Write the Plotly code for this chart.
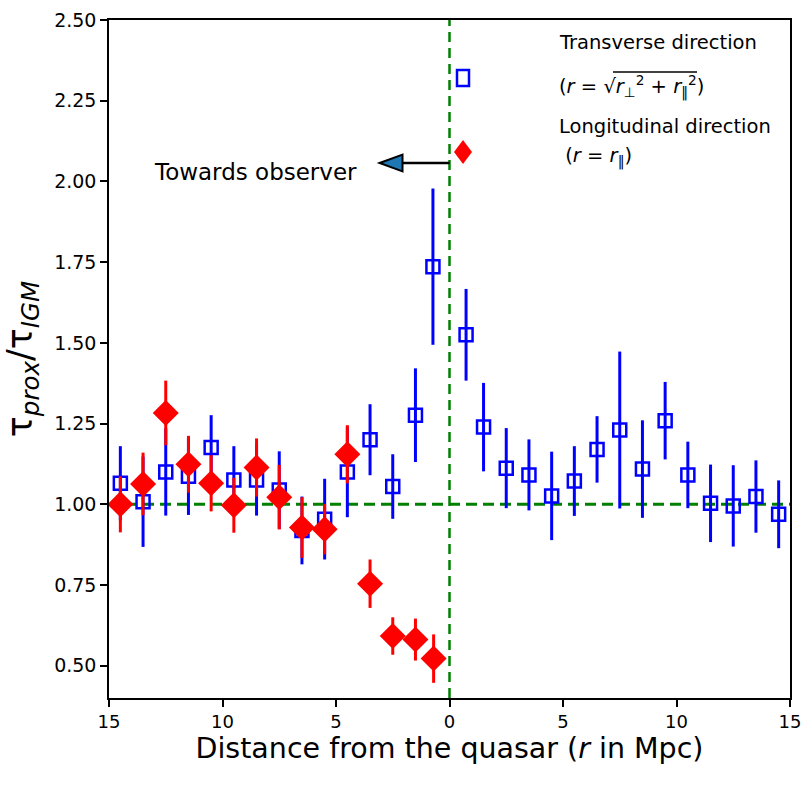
import plotly.graph_objects as go

# Transverse direction (blue open squares); negative x = towards observer side
trans_x = [-14.5, -13.5, -12.5, -11.5, -10.5, -9.5, -8.5, -7.5, -6.5, -5.5, -4.5, -3.5, -2.5, -1.5, -0.73,
           0.73, 1.5, 2.5, 3.5, 4.5, 5.5, 6.5, 7.5, 8.5, 9.5, 10.5, 11.5, 12.5, 13.5, 14.5]
trans_y = [1.065, 1.008, 1.100, 1.087, 1.176, 1.075, 1.075, 1.044, 0.919, 0.954, 1.100, 1.200, 1.055, 1.276, 1.736,
           1.525, 1.239, 1.112, 1.091, 1.026, 1.072, 1.170, 1.230, 1.109, 1.259, 1.091, 1.003, 0.995, 1.024, 0.969]
trans_err = [0.115, 0.140, 0.135, 0.120, 0.100, 0.105, 0.110, 0.120, 0.105, 0.125, 0.140, 0.110, 0.100, 0.145, 0.242,
             0.142, 0.137, 0.124, 0.110, 0.137, 0.108, 0.103, 0.243, 0.151, 0.120, 0.103, 0.120, 0.126, 0.112, 0.105]

# Longitudinal direction (red diamonds)
long_x = [-14.5, -13.5, -12.5, -11.5, -10.5, -9.5, -8.5, -7.5, -6.5, -5.5, -4.5, -3.5, -2.5, -1.5, -0.7]
long_y = [1.000, 1.063, 1.283, 1.124, 1.065, 0.997, 1.114, 1.022, 0.928, 0.923, 1.155, 0.754, 0.592, 0.581, 0.522]
long_err = [0.087, 0.097, 0.100, 0.088, 0.087, 0.085, 0.090, 0.100, 0.094, 0.078, 0.090, 0.075, 0.058, 0.065, 0.075]

x_tickvals = [-15, -10, -5, 0, 5, 10, 15]
x_ticktext = ["15", "10", "5", "0", "5", "10", "15"]
y_tickvals = [0.50, 0.75, 1.00, 1.25, 1.50, 1.75, 2.00, 2.25, 2.50]

BLUE = "#0000ff"
RED = "#ff0000"
GREEN = "#008000"

fig = go.Figure()

# reference lines
fig.add_shape(type="line", xref="x", yref="y", x0=-15, x1=15, y0=1.0, y1=1.0,
              line=dict(color=GREEN, width=3, dash="11px,6px"), layer="below")
fig.add_shape(type="line", xref="x", yref="y", x0=0, x1=0, y0=0.4, y1=2.5,
              line=dict(color=GREEN, width=2.5, dash="10px,6px"), layer="below")

fig.add_trace(go.Scatter(
    x=trans_x, y=trans_y, mode="markers", showlegend=False,
    error_y=dict(type="data", array=trans_err, color=BLUE, thickness=3, width=0),
    marker=dict(symbol="square-open", size=13, color=BLUE, line=dict(width=2.5, color=BLUE)),
    name="Transverse direction",
))
fig.add_trace(go.Scatter(
    x=long_x, y=long_y, mode="markers", showlegend=False,
    error_y=dict(type="data", array=long_err, color=RED, thickness=3, width=0),
    marker=dict(symbol="diamond", size=20, color=RED, line=dict(width=0)),
    name="Longitudinal direction",
))

# arrow "Towards observer"
ay = 2.057
fig.add_shape(type="line", xref="x", yref="y", x0=0, x1=-2.3, y0=ay, y1=ay,
              line=dict(color="black", width=2.5))
fig.add_shape(type="path", xref="x", yref="y",
              path=f"M -3.08 {ay} L -2.07 {ay+0.026} L -2.07 {ay-0.026} Z",
              fillcolor="#1f77b4", line=dict(color="black", width=2))
fig.add_annotation(x=-8.55, y=2.029, xref="x", yref="y", text="Towards observer", showarrow=False,
                   font=dict(family="DejaVu Sans", size=23, color="black"))

# legend (drawn manually to match the layout of the original)
L, R, T, B = 109, 790, 20, 698
def px(xp):
    return (xp - L) / (R - L)
def py(yp):
    return (B - yp) / (B - T)

leg_font = dict(family="DejaVu Sans", size=19.5, color="black")
leg_lines = [
    ("Transverse direction", 557, 42),
    ("(<i>r</i> = √<i>r</i><sub>⊥</sub><sup>2</sup> + <i>r</i><sub>‖</sub><sup>2</sup>)", 557, 86),
    ("Longitudinal direction", 557, 127),
    (" (<i>r</i> = <i>r</i><sub>‖</sub>)", 557, 157),
]
for txt, xp, yp in leg_lines:
    fig.add_annotation(x=px(xp), y=py(yp), xref="paper", yref="paper", text=txt, showarrow=False,
                       xanchor="left", yanchor="middle", font=leg_font)
# square-root bar
fig.add_shape(type="line", xref="paper", yref="paper",
              x0=px(613), x1=px(697), y0=py(72), y1=py(72), line=dict(color="black", width=1.3))
# legend symbols
sx, sy = 463, 78
fig.add_shape(type="rect", xref="paper", yref="paper",
              x0=px(sx - 6), x1=px(sx + 6), y0=py(sy + 8), y1=py(sy - 8),
              line=dict(color=BLUE, width=2.5), fillcolor="rgba(0,0,0,0)")
dx, dy = 463, 152
fig.add_shape(type="path", xref="paper", yref="paper",
              path=(f"M {px(dx)} {py(dy - 12)} L {px(dx + 9)} {py(dy)} "
                    f"L {px(dx)} {py(dy + 12)} L {px(dx - 9)} {py(dy)} Z"),
              fillcolor=RED, line=dict(color=RED, width=0))

fig.update_layout(
    width=803, height=788,
    margin=dict(l=L, r=803 - R, t=T, b=788 - B),
    plot_bgcolor="white", paper_bgcolor="white",
    font=dict(family="DejaVu Sans", color="black"),
    showlegend=False,
)
fig.update_xaxes(range=[-15, 15], tickvals=x_tickvals, ticktext=x_ticktext,
                 ticks="outside", ticklen=7, tickwidth=1.5, tickcolor="black",
                 showline=True, linecolor="black", linewidth=1.5, mirror=True,
                 showgrid=False, zeroline=False, automargin=False,
                 tickfont=dict(size=18, family="DejaVu Sans"),
                 title=dict(text="Distance from the quasar (<i>r</i> in Mpc)",
                            font=dict(size=28.5, family="DejaVu Sans"), standoff=0))
fig.update_yaxes(range=[0.4, 2.5], tickvals=y_tickvals, tickformat=".2f",
                 ticks="outside", ticklen=7, tickwidth=1.5, tickcolor="black",
                 showline=True, linecolor="black", linewidth=1.5, mirror=True,
                 showgrid=False, zeroline=False, automargin=False,
                 tickfont=dict(size=19, family="DejaVu Sans"),
                 title=dict(text="τ<sub><i>prox</i></sub>/τ<sub><i>IGM</i></sub>",
                            font=dict(size=35, family="DejaVu Sans"), standoff=12))

fig.write_html("out.html", config={"displayModeBar": False},
               post_script="document.body.style.margin='0';")
